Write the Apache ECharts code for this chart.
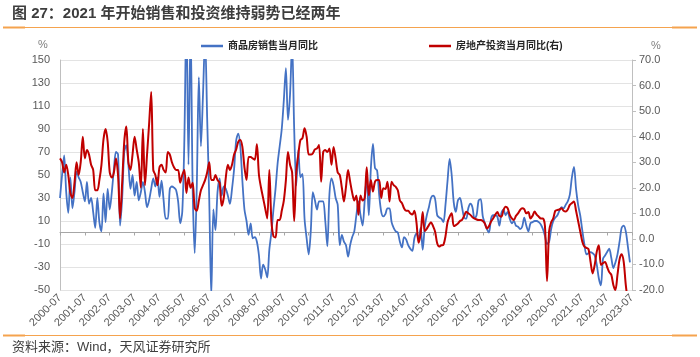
<!DOCTYPE html>
<html><head><meta charset="utf-8">
<script src="https://cdn.jsdelivr.net/npm/echarts@6/dist/echarts.min.js"></script>
<style>html,body{margin:0;padding:0;background:#fff}#c{width:700px;height:357px}</style>
</head><body><div id="c"></div>
<script>
// monthly categories 2000-07 .. 2023-07
const startYear = 2000, startMonth = 7, monthCount = 277;
const categories = [];
for (let k = 0; k < monthCount; k++) {
  const m = (startMonth - 1 + k) % 12 + 1;
  const y = startYear + Math.floor((startMonth - 1 + k) / 12);
  categories.push(y + '-' + (m < 10 ? '0' + m : m));
}
// 商品房销售当月同比 (%), left axis
const salesYoY = [
  30, 50, 67, 35, 17, 48, 21, 35, 53, 48, 44, 35,
  27, 44, 25, 30, 18, 4, 30, 9, 1, 34, 9, 38,
  20, 35, 55, 70, 68, 6, 30, 70, 76, 59, 38, 50,
  32, 44, 28, 35, 44, 35, 22, 28, 38, 47, 40, 48,
  31, 45, 28, 12, 12, 38, 40, 39, 37, 27, 8, 18,
  80, 190, 59, 180, 40, -18, 40, 135, 75, 120, 170, 100,
  30, -55, 20, 2, 35, 47, 32, 40, 38, 32, 25, 38,
  55, 80, 86, 75, 45, 20, 10, -2, 8, -5, -4, -8,
  -20, -40, -28, -32, -39, -15, 0, 20, 38, 60, 75, 90,
  115, 143, 98, 120, 165, 90, 41, 72, 48, 51, 12, -5,
  -19, 1, 35, 28, 20, 27, 27, 27, 10, -12, 33, 47,
  41, 30, 24, -11, -2, -8, -11, -21, -11, -4, 1, 15,
  27, 15, 6, 27, 48, 15, 56, 77, 56, 54, 33, 18,
  14, 16, 21, 21, 9, 4, 1, 0, -8, -13, -4, -6,
  -11, -14, -16, -5, -1, -5, 4, -15, 5, 15, 22, 30,
  32, 29, 15, 13, 12, 9, 24, 45, 64, 50, 26, 18,
  28, 30, 22, 13, 12, 21, 25, 22, 12, 15, 28, 29,
  14, 8, 3, 0, 12, 15, 15, 14, 6, 17, 20, 15,
  18, 12, 8, 10, 6, 5, 3, 5, 13, 6, 1, 8,
  9, 10, 10, 9, 7, 3, -3, -10, -8, 3, 10, 13,
  15, 19, 22, 21, 24, 27, 33, 48, 57, 38, 24, 15,
  2, -10, -19, -18, -17, -18, -20, -28, -40, -46, -23, -20,
  -17, -14, -22, -31, -26, -19, -8, 4, 6, 1, -12, -26
];
// 房地产投资当月同比(右) (%), right axis
const investYoY = [
  31.5, 30, 26, 29, 25, 18, 16, 22, 30, 25, 30, 40,
  31.5, 34.8, 33, 29, 27, 19, 19, 23, 29, 39, 43, 38,
  26, 24, 26, 31.5, 25, 8, 22, 38, 44, 30, 27, 33,
  40, 35, 30, 20, 43, 21, 33, 45, 57.5, 27, 25, 21,
  28, 29, 27, 26, 34, 33, 30, 28, 27, 27, 22, 25,
  27, 18, 24, 20, 22, 12, 11, 15, 19, 21, 23, 26,
  30, 23, 23, 25, 23, 22, 13, 16, 24, 29, 27, 29,
  33, 35, 38, 38.7, 36, 28, 23, 32, 32, 31.5, 31, 37,
  25, 20, 16, 12, 8, 27, 7, 1, 0.5, 7.4, 7.4, 11,
  15, 23, 34, 29, 26, 7, 26, 33, 38.7, 39.4, 43.3, 40,
  33, 33, 33.5, 35, 35.4, 36.7, 22.4, 34, 34.8, 34, 35.4, 29,
  36, 31.5, 26, 25, 20, 14.6, 20.4, 27, 22.4, 18, 15, 17,
  9.4, 17, 15, 16, 28, 17, 23, 18.5, 22.4, 23, 23, 16,
  19.8, 19.5, 22.4, 14.6, 22.4, 21, 20.4, 19, 15, 14, 12, 11,
  11, 10, 9.5, 11, 6.5, -1.5, 2, 10.5, 3, 4, 5.4, 6.5,
  5, 2.8, -1.7, -3, -2.5, -2.3, 1, 6.5, 8.7, 10, 5, 5.4,
  6, 7, 7.4, 9, 10.6, 10, 9.4, 8.5, 8, 7.6, 7.4, 7.4,
  7, 6, 4.1, 5, 6.8, 8, 9.4, 10.5, 9, 8.7, 11.3, 12.6,
  12, 9.4, 8, 7.4, 9, 10, 11.3, 12, 11.6, 10, 10.5, 8,
  9, 10.7, 9.5, 8.7, 8, 8, 5, -16.5, 3, 6.5, 8, 11,
  11.3, 11.5, 12, 11, 10.7, 11.5, 13.3, 14, 14.6, 11, 7, 3,
  -1, -3, -3.5, -4, -9, -13.5, -10.2, -5, -2.5, -10.2, -9.5, -9,
  -11, -13, -14, -18, -20, -14, -8, -6, -9, -18, -24, -28
];
const seriesNames = ['商品房销售当月同比', '房地产投资当月同比(右)'];
const leftAxisRange = { min: -50, max: 150, interval: 20 };
const rightAxisRange = { min: -20, max: 70, interval: 10 };
const titleText = '图 27：2021 年开始销售和投资维持弱势已经两年';
const sourceText = '资料来源：Wind，天风证券研究所';

const FONT = "'Liberation Sans','Noto Sans CJK SC',sans-serif";
const chart = echarts.init(document.getElementById('c'), null, { renderer: 'canvas' });
const orange = '#F5A34E';
chart.setOption({
  animation: false,
  backgroundColor: '#fff',
  textStyle: { fontFamily: FONT },
  grid: { left: 60, right: 68, top: 60, bottom: 67, containLabel: false },
  legend: [
    { data: [seriesNames[0]], left: 196, top: 36, icon: 'rect', itemWidth: 22, itemHeight: 2.5,
      textStyle: { fontSize: 10, fontWeight: 'bold', color: '#262626', fontFamily: FONT } },
    { data: [seriesNames[1]], left: 424, top: 36, icon: 'rect', itemWidth: 22, itemHeight: 2.5,
      textStyle: { fontSize: 10, fontWeight: 'bold', color: '#262626', fontFamily: FONT } }
  ],
  graphic: [
    { type: 'text', left: 12, top: 6, style: { text: titleText, font: "bold 15px " + FONT, fill: '#3d3d3d' } },
    { type: 'line', shape: { x1: 3, y1: 27.5, x2: 697, y2: 27.5 }, style: { stroke: orange, lineWidth: 1 } },
    { type: 'line', shape: { x1: 3, y1: 27.5, x2: 25, y2: 27.5 }, style: { stroke: orange, lineWidth: 2 } },
    { type: 'line', shape: { x1: 672, y1: 27.5, x2: 697, y2: 27.5 }, style: { stroke: orange, lineWidth: 2 } },
    { type: 'line', shape: { x1: 3, y1: 335.5, x2: 697, y2: 335.5 }, style: { stroke: orange, lineWidth: 1 } },
    { type: 'line', shape: { x1: 3, y1: 335.5, x2: 25, y2: 335.5 }, style: { stroke: orange, lineWidth: 2 } },
    { type: 'line', shape: { x1: 672, y1: 335.5, x2: 697, y2: 335.5 }, style: { stroke: orange, lineWidth: 2 } },
    { type: 'text', left: 12, top: 341, style: { text: sourceText, font: "13px " + FONT, fill: '#404040' } },
    { type: 'text', left: 38, top: 39, style: { text: '%', font: "11px " + FONT, fill: '#7f7f7f' } },
    { type: 'text', left: 651, top: 40, style: { text: '%', font: "11px " + FONT, fill: '#7f7f7f' } }
  ],
  xAxis: [
    { type: 'category', data: categories, boundaryGap: false, position: 'bottom',
      axisLine: { show: true, onZero: true, lineStyle: { color: '#a6a6a6', width: 1 } },
      axisTick: { show: true, interval: 11, length: 3, lineStyle: { color: '#a6a6a6' } },
      axisLabel: { show: false }, splitLine: { show: false } },
    { type: 'category', data: categories, boundaryGap: false, position: 'bottom',
      axisLine: { show: false, onZero: false }, axisTick: { show: false },
      axisLabel: { interval: 11, rotate: 45, fontSize: 11, color: '#595959', margin: 6, fontFamily: FONT },
      splitLine: { show: false } }
  ],
  yAxis: [
    { type: 'value', position: 'left', min: leftAxisRange.min, max: leftAxisRange.max, interval: leftAxisRange.interval,
      axisLine: { show: true, lineStyle: { color: '#bfbfbf' } }, axisTick: { show: false },
      axisLabel: { fontSize: 11, color: '#595959', margin: 10, fontFamily: FONT },
      splitLine: { show: true, lineStyle: { color: '#e3e3e3', width: 1 } } },
    { type: 'value', position: 'right', min: rightAxisRange.min, max: rightAxisRange.max, interval: rightAxisRange.interval,
      axisLine: { show: true, lineStyle: { color: '#bfbfbf' } },
      axisTick: { show: true, length: 4, lineStyle: { color: '#bfbfbf' } },
      axisLabel: { fontSize: 11, color: '#595959', margin: 7, fontFamily: FONT, formatter: v => v.toFixed(1) },
      splitLine: { show: false } }
  ],
  series: [
    { name: seriesNames[0], type: 'line', xAxisIndex: 0, yAxisIndex: 0, data: salesYoY,
      showSymbol: false, smooth: 0.3, clip: true, color: '#4472C4',
      lineStyle: { color: '#4472C4', width: 1.8 } },
    { name: seriesNames[1], type: 'line', xAxisIndex: 0, yAxisIndex: 1, data: investYoY,
      showSymbol: false, smooth: 0.3, clip: true, color: '#C00000',
      lineStyle: { color: '#C00000', width: 2 } }
  ]
});
</script></body></html>
